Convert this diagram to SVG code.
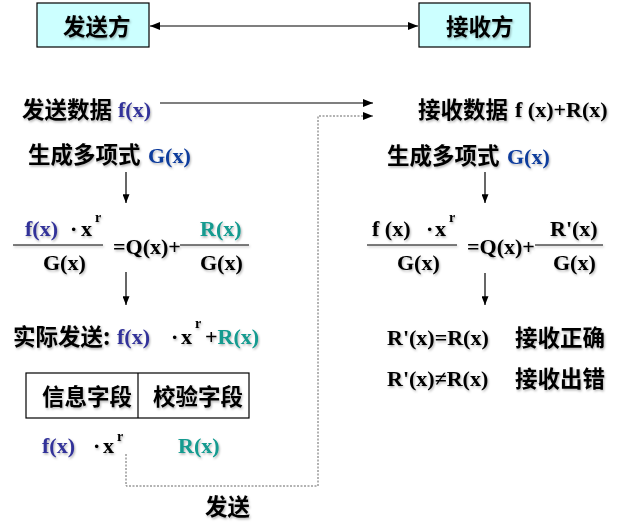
<svg xmlns="http://www.w3.org/2000/svg" width="617" height="528" viewBox="0 0 617 528">
<defs>
<style>
.cjk{font-family:"Noto Sans CJK SC","Noto Sans CJK TC",sans-serif;font-weight:bold;font-size:22.5px;fill:#000}
.m{font-family:"Liberation Serif","Times New Roman",serif;font-weight:bold;font-size:22px;fill:#000}
.sup{font-family:"Liberation Serif","Times New Roman",serif;font-weight:bold;font-size:14px;fill:#000}
.fb{fill:#333399}
.gb{fill:#103C9C}
.rt{fill:#129A8F}
.sh{filter:url(#shadow)}
.box{fill:#CCFFFF;stroke:#000;stroke-width:1.2}
.ln{stroke:#000;stroke-width:1.2;fill:none}
.dash{stroke:#666;stroke-width:1;stroke-dasharray:2 1.5;fill:none}
</style>
<filter id="shadow" x="-10%" y="-20%" width="120%" height="150%">
<feDropShadow dx="1" dy="1.5" stdDeviation="0.8" flood-color="#000" flood-opacity="0.3"/>
</filter>
<marker id="ah" viewBox="0 0 10 8" refX="10" refY="4" markerWidth="10" markerHeight="8" markerUnits="userSpaceOnUse" orient="auto-start-reverse">
<path d="M0,0 L10,4 L0,8 Z" fill="#000"/>
</marker>
<marker id="ahs" viewBox="0 0 10 8" refX="10" refY="4" markerWidth="9" markerHeight="7" markerUnits="userSpaceOnUse" orient="auto">
<path d="M0,0 L10,4 L0,8 Z" fill="#000"/>
</marker>
</defs>

<g id="sender">
<rect class="box" x="37" y="3" width="112" height="44"/>
<text class="cjk sh" x="63" y="35">发送方</text>
</g>
<g id="receiver">
<rect class="box" x="419" y="3" width="111" height="44"/>
<text class="cjk sh" x="446" y="35">接收方</text>
</g>

<g id="send-data" class="sh">
<text class="cjk" x="22" y="118">发送数据</text>
<text class="m fb" x="118" y="117">f(x)</text>
</g>
<g id="recv-data" class="sh">
<text class="cjk" x="418" y="118">接收数据</text>
<text class="m" x="515" y="117">f (x)+R(x)</text>
</g>

<g id="gen-left" class="sh">
<text class="cjk" x="28" y="163">生成多项式</text>
<text class="m gb" x="148" y="163">G(x)</text>
</g>
<g id="gen-right" class="sh">
<text class="cjk" x="387" y="164">生成多项式</text>
<text class="m gb" x="507" y="164">G(x)</text>
</g>

<g id="div-left" class="sh">
<text class="m fb" x="25" y="236">f(x)</text>
<text class="m" x="70" y="236">·</text>
<text class="m" x="81" y="236">x</text>
<text class="sup" x="95" y="222">r</text>
<line class="ln" x1="13" y1="245" x2="103" y2="245"/>
<text class="m" x="43" y="270">G(x)</text>
<text class="m" x="113" y="254">=Q(x)+</text>
<line class="ln" x1="180" y1="245" x2="249" y2="245"/>
<text class="m rt" x="200" y="236">R(x)</text>
<text class="m" x="200" y="270">G(x)</text>
</g>

<g id="div-right" class="sh">
<text class="m" x="372" y="236">f (x)</text>
<text class="m" x="426" y="236">·</text>
<text class="m" x="435" y="236">x</text>
<text class="sup" x="449" y="222">r</text>
<line class="ln" x1="367" y1="245" x2="457" y2="245"/>
<text class="m" x="397" y="270">G(x)</text>
<text class="m" x="467" y="254">=Q(x)+</text>
<line class="ln" x1="535" y1="245" x2="603" y2="245"/>
<text class="m" x="550" y="236">R'(x)</text>
<text class="m" x="553" y="270">G(x)</text>
</g>

<g id="actual-send" class="sh">
<text class="cjk" x="13" y="345">实际发送:</text>
<text class="m fb" x="117" y="344">f(x)</text>
<text class="m" x="171" y="344">·</text>
<text class="m" x="181" y="344">x</text>
<text class="sup" x="195" y="328">r</text>
<text class="m" x="205" y="344">+<tspan class="rt">R(x)</tspan></text>
</g>

<g id="result-ok" class="sh">
<text class="m" x="387" y="345">R'(x)=R(x)</text>
<text class="cjk" x="515" y="346">接收正确</text>
</g>
<g id="result-err" class="sh">
<text class="m" x="387" y="386">R'(x)≠R(x)</text>
<text class="cjk" x="515" y="387">接收出错</text>
</g>

<g id="frame">
<rect x="26" y="373" width="223" height="45" fill="none" stroke="#000" stroke-width="1.2"/>
<line class="ln" x1="138" y1="373" x2="138" y2="418"/>
<text class="cjk sh" x="42" y="405">信息字段</text>
<text class="cjk sh" x="153" y="405">校验字段</text>
</g>

<g id="frame-values" class="sh">
<text class="m fb" x="42" y="453">f(x)</text>
<text class="m" x="93" y="453">·</text>
<text class="m" x="103" y="453">x</text>
<text class="sup" x="117" y="441">r</text>
<text class="m rt" x="178" y="453">R(x)</text>
</g>

<g id="send-label">
<text class="cjk sh" x="205" y="515">发送</text>
</g>

<g id="connectors">
<line class="ln" x1="150" y1="26" x2="418" y2="26" marker-start="url(#ah)" marker-end="url(#ah)"/>
<line class="ln" x1="160" y1="103" x2="373" y2="103" marker-end="url(#ah)"/>
<polyline class="dash" points="126,454 126,486 318,486 318,116 373,116" marker-end="url(#ah)"/>
<line class="ln" x1="126" y1="172" x2="126" y2="203" marker-end="url(#ahs)"/>
<line class="ln" x1="126" y1="272" x2="126" y2="305" marker-end="url(#ahs)"/>
<line class="ln" x1="485" y1="172" x2="485" y2="203" marker-end="url(#ahs)"/>
<line class="ln" x1="485" y1="273" x2="485" y2="305" marker-end="url(#ahs)"/>
</g>
</svg>
